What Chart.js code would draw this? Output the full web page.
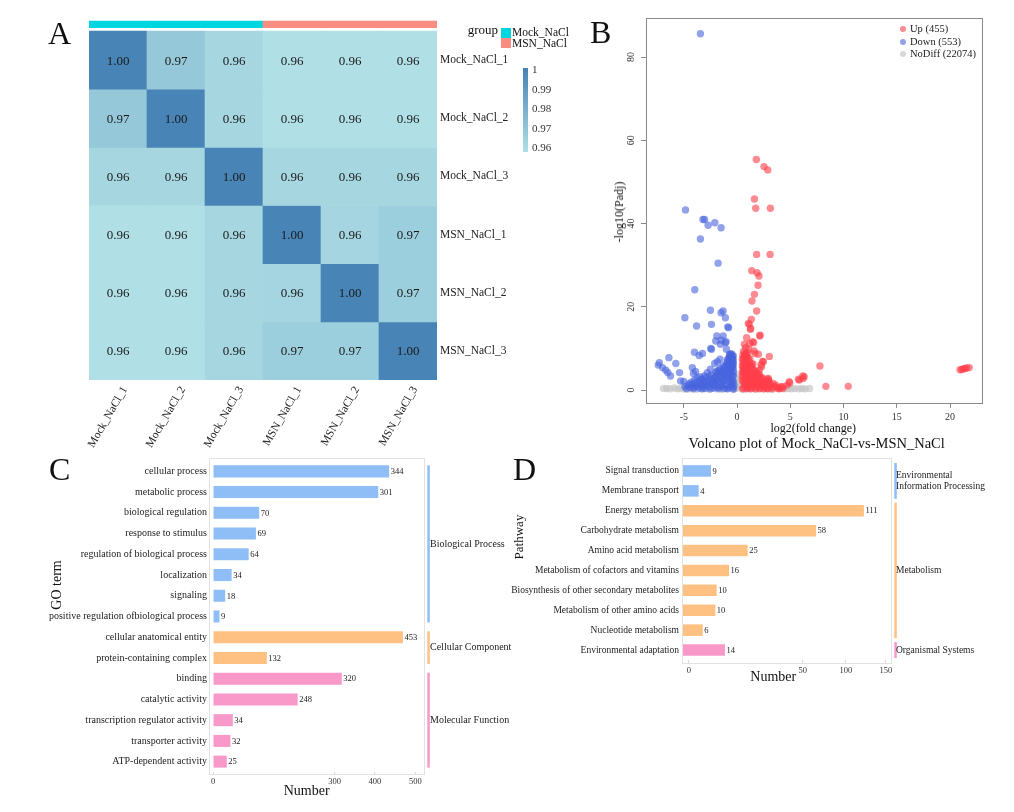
<!DOCTYPE html>
<html><head><meta charset="utf-8">
<script src="https://cdn.jsdelivr.net/npm/chart.js@4.4.1/dist/chart.umd.min.js"></script>
<style>
html,body{margin:0;padding:0;background:#fff;}
body{width:1014px;height:812px;position:relative;overflow:hidden;font-family:"Liberation Serif","Times New Roman",serif;color:#111;}
canvas{position:absolute;}
.t{position:absolute;white-space:nowrap;line-height:1;}
</style></head><body>
<canvas id="cA" width="600" height="450" style="left:0px;top:0px"></canvas>
<canvas id="cB" width="434" height="450" style="left:580px;top:0px"></canvas>
<canvas id="cC" width="480" height="350" style="left:40px;top:450px"></canvas>
<canvas id="cD" width="514" height="250" style="left:500px;top:450px"></canvas>
<script>
// ---------------- DATA ----------------
// Panel A: sample correlation heatmap
const sampleNames = ['Mock_NaCl_1','Mock_NaCl_2','Mock_NaCl_3','MSN_NaCl_1','MSN_NaCl_2','MSN_NaCl_3'];
const sampleGroup = ['Mock_NaCl','Mock_NaCl','Mock_NaCl','MSN_NaCl','MSN_NaCl','MSN_NaCl'];
const groupNames = ['Mock_NaCl','MSN_NaCl'];
const heatMatrix = [
  [1.000, 0.969, 0.962, 0.958, 0.958, 0.958],
  [0.969, 1.000, 0.962, 0.958, 0.958, 0.958],
  [0.962, 0.962, 1.000, 0.962, 0.962, 0.962],
  [0.958, 0.958, 0.962, 1.000, 0.963, 0.966],
  [0.958, 0.958, 0.962, 0.963, 1.000, 0.966],
  [0.958, 0.958, 0.962, 0.966, 0.966, 1.000]
];
const colorbarTicks = [1, 0.99, 0.98, 0.97, 0.96];
const colorbarTickText = ['1','0.99','0.98','0.97','0.96'];

// Panel B: volcano plot points [log2FC, -log10(padj)]
const upPoints = [
 [1.81,55.4],[2.53,53.7],[2.88,52.9],[1.63,45.9],[1.75,43.7],[3.13,43.7],[1.84,32.6],[3.1,32.6],
 [1.38,28.7],[1.88,28.2],[2.06,27.4],[1.97,25.2],[1.63,23.0],[1.4,21.4],[1.84,19.0],[1.34,17.0],
 [1.16,15.8],[1.25,14.6],[2.13,13.0],[0.9,12.6],[0.69,11.0],[1.56,11.4],[1.2,11.2],[1.6,9.4],
 [2.0,8.6],[3.03,8.1],[2.4,6.9],[2.25,6.1],[1.38,6.2],[7.78,5.8],[6.3,3.2],[6.2,2.8],[5.85,2.4],
 [8.34,0.9],[10.44,0.9],[4.94,1.7],[4.7,1.2],[4.3,0.8],[4.0,0.5],[2.97,2.4],
 [20.94,4.9],[21.1,4.95],[21.25,5.1],[21.4,5.2],[21.56,5.3],[21.8,5.4],
 [1.06,16.0],[1.28,14.8],[2.16,13.2],[1.47,11.6],[1.69,8.8],[2.47,6.8],[2.3,5.6],[2.1,4.8],
 [2.94,2.8],[3.4,1.6],[4.9,2.0],[5.76,2.6],[6.17,3.4],
 [0.6,0.6],[0.8,1.2],[1.0,0.5],[1.2,1.0],[1.4,0.6],[1.6,1.3],[1.8,0.7],[2.0,1.1],[2.2,0.5],
 [2.4,1.2],[2.6,0.8],[2.8,0.4],[3.0,1.0],[3.2,0.6],[3.5,0.9],[3.8,0.5],[4.1,0.8],[4.3,0.4],
 [0.6,1.9],[0.9,2.3],[1.2,1.8],[1.5,2.2],[1.8,1.9],[2.1,2.4],[2.4,1.8],[2.7,2.2],[3.0,1.9],
 [0.6,3.0],[0.9,3.6],[1.2,2.9],[1.5,3.4],[1.8,3.0],[2.1,3.7],[2.4,2.9],[0.7,3.9],
 [0.6,4.5],[0.9,5.0],[1.2,4.3],[1.5,4.9],[1.8,4.4],[0.7,5.4],
 [0.6,6.0],[0.9,6.6],[1.2,5.8],[1.5,6.3],[0.7,7.0],
 [0.6,7.6],[0.9,8.1],[1.2,7.4],[0.7,8.7],[1.0,9.0],[0.8,10.2],[1.1,9.8],
 [0.5,0.3],[0.7,1.5],[0.9,0.3],[1.1,1.6],[1.3,0.3],[1.5,1.5],[1.7,0.3],[1.9,1.5],[2.1,0.3],
 [2.3,1.6],[2.5,0.3],[2.7,1.5],[2.9,0.3],[3.1,1.4],[3.35,0.3],[3.65,1.2],[3.95,0.3],
 [0.5,2.4],[0.75,2.0],[1.05,2.6],[1.35,1.9],[1.65,2.7],[1.95,2.1],[2.25,2.6],[2.55,2.0],[2.85,2.6],
 [0.5,3.4],[0.8,3.0],[1.05,3.5],[1.35,3.0],[1.65,3.8],[1.95,3.4],[2.25,3.0],
 [0.5,4.2],[0.8,4.4],[1.05,4.8],[1.35,4.2],[1.65,4.7],[1.95,4.0],[0.55,5.1],
 [0.5,5.8],[0.8,5.6],[1.05,6.2],[1.35,5.7],[0.55,6.6],[0.85,7.2],[1.1,6.9],
 [0.5,7.4],[0.75,8.2],[1.05,7.8],[0.55,8.4],[0.85,8.8],[0.6,9.3]
];
const downPoints = [
 [-3.44,85.6],[-4.84,43.3],[-3.2,41.0],[-3.05,41.0],[-2.72,39.6],[-2.09,40.2],[-1.5,39.0],[-3.44,36.3],
 [-1.78,30.5],[-3.97,24.1],[-2.5,19.2],[-1.31,19.0],[-1.5,18.6],[-1.1,17.4],[-4.9,17.4],[-2.4,15.8],
 [-3.8,15.4],[-0.8,15.0],[-1.9,13.0],[-1.3,13.0],[-2.0,11.8],[-1.1,11.4],[-1.56,11.0],[-1.0,9.8],
 [-2.4,9.8],[-4.0,9.1],[-3.25,8.8],[-3.56,8.3],[-0.7,8.6],[-6.4,7.8],[-7.3,6.6],[-7.4,6.0],
 [-5.75,6.4],[-7.0,5.4],[-6.7,4.8],[-6.5,4.2],[-6.25,3.4],[-5.4,4.2],[-4.2,5.4],[-3.9,4.5],
 [-5.3,2.2],[-5.0,2.1],[-2.1,6.4],[-2.5,5.0],[-2.8,4.2],[-3.06,3.4],[-3.3,2.6],[-3.75,3.0],
 [-1.6,7.4],[-1.85,6.8],[-2.47,10.0],[-1.47,12.0],[-1.03,11.6],[-0.87,15.2],[-4.1,4.0],[-3.5,3.2],
 [-4.9,0.8],[-4.6,1.1],[-4.4,0.6],[-4.2,1.3],[-4.0,0.7],[-3.8,1.0],[-3.6,0.5],[-3.4,1.2],[-3.2,0.8],
 [-3.0,0.4],[-2.8,1.1],[-2.6,0.7],[-2.4,1.4],[-2.2,0.5],[-2.0,1.0],[-1.8,0.6],[-1.6,1.3],[-1.4,0.8],
 [-1.2,0.4],[-1.0,1.1],[-0.8,0.6],[-0.6,1.2],[-0.4,0.5],[-0.3,1.0],
 [-4.3,1.9],[-3.9,1.7],[-3.5,2.0],[-3.1,1.8],[-2.7,2.2],[-2.3,1.9],[-1.9,2.3],[-1.5,2.0],[-1.1,2.4],
 [-0.7,2.1],[-0.4,2.3],
 [-3.0,2.9],[-2.6,3.3],[-2.2,2.8],[-1.9,3.6],[-1.6,3.1],[-1.3,3.7],[-1.0,3.2],[-0.7,3.8],[-0.4,3.3],
 [-2.0,4.3],[-1.7,4.8],[-1.4,4.4],[-1.1,5.0],[-0.8,4.6],[-0.5,5.2],[-0.35,4.4],
 [-1.3,5.8],[-1.0,6.3],[-0.8,5.9],[-0.6,6.6],[-0.4,6.0],[-0.35,7.0],
 [-0.9,7.3],[-0.7,7.8],[-0.5,8.2],[-0.4,7.5],[-0.6,8.6],
 [-4.75,0.4],[-4.5,1.5],[-4.1,0.3],[-3.7,1.5],[-3.3,0.3],[-2.9,1.5],[-2.5,0.3],[-2.1,1.6],[-1.7,0.3],
 [-1.3,1.5],[-0.9,0.3],[-0.5,1.6],[-0.35,0.2],
 [-4.0,2.4],[-3.3,2.5],[-2.9,2.0],[-2.5,2.6],[-2.1,2.1],[-1.7,2.7],[-1.3,2.2],[-0.9,2.8],[-0.55,2.6],[-0.35,1.8],
 [-2.4,3.6],[-2.0,3.2],[-1.75,4.0],[-1.45,3.4],[-1.15,4.1],[-0.85,3.5],[-0.55,4.0],[-0.35,3.6],
 [-1.85,4.6],[-1.55,5.2],[-1.25,4.7],[-0.95,5.4],[-0.65,4.9],[-0.45,5.6],[-0.35,5.2],
 [-1.15,5.6],[-0.9,6.8],[-0.7,6.2],[-0.5,6.8],[-0.35,6.3],[-0.45,6.9],
 [-0.8,7.6],[-0.6,7.2],[-0.45,8.0],[-0.35,8.2],[-0.5,8.7],[-0.7,8.3]
];
const nodiffPoints = [
 [-6.9,0.4],[-6.6,0.4],[-6.3,0.3],[-5.9,0.5],[-5.6,0.3],[-5.3,0.4],[-5.0,0.3],[-4.7,0.2],[-4.3,0.3],
 [-3.8,0.2],[-3.2,0.3],[-2.6,0.2],[-2.0,0.3],[-1.4,0.2],[-0.9,0.3],[-0.2,0.4],[-0.1,1.5],[0.0,0.5],
 [0.1,2.5],[0.2,1.2],[-0.15,3.0],[0.15,3.8],[0.0,2.0],[0.6,0.2],[1.2,0.3],[1.8,0.2],[2.5,0.3],
 [3.2,0.2],[3.9,0.3],[4.5,0.3],[4.8,0.4],[5.1,0.3],[5.4,0.4],[5.8,0.3],[6.1,0.4],[6.4,0.3],[6.8,0.4]
];
const volcanoLegend = ['Up (455)','Down (553)','NoDiff (22074)'];
const volcanoXTicks = [-5, 0, 5, 10, 15, 20];
const volcanoYTicks = [0, 20, 40, 60, 80];

// Panel C: GO terms (bar lengths read on the drawn axis, printed counts)
const goTerms = ['cellular process','metabolic process','biological regulation','response to stimulus',
 'regulation of biological process','localization','signaling','positive regulation ofbiological process',
 'cellular anatomical entity','protein-containing complex','binding','catalytic activity',
 'transcription regulator activity','transporter activity','ATP-dependent activity'];
const goBarLength = [435, 408, 114, 106, 88, 46, 30, 16, 469, 133, 318, 209, 49, 43, 34];
const goCounts = [344, 301, 70, 69, 64, 34, 18, 9, 453, 132, 320, 248, 34, 32, 25];
const goCategory = [0,0,0,0,0,0,0,0,1,1,2,2,2,2,2];
const goGroupNames = ['Biological Process','Cellular Component','Molecular Function'];
const goTicks = [0, 300, 400, 500];

// Panel D: KEGG pathways
const pathways = ['Signal transduction','Membrane transport','Energy metabolism','Carbohydrate metabolism',
 'Amino acid metabolism','Metabolism of cofactors and vitamins','Biosynthesis of other secondary metabolites',
 'Metabolism of other amino acids','Nucleotide metabolism','Environmental adaptation'];
const pathwayBarLength = [20.7, 11.6, 133.7, 98.3, 47.8, 34.0, 24.9, 23.9, 14.6, 31.0];
const pathwayCounts = [9, 4, 111, 58, 25, 16, 10, 10, 6, 14];
const pathwayCategory = [0,0,1,1,1,1,1,1,1,2];
const pathwayGroupNames = ['Environmental\nInformation Processing','Metabolism','Organismal Systems'];
const pathwayTickAt = [4.4, 88.4, 120.4, 150];
const pathwayTickText = ['0','50','100','150'];

// ---------------- STYLE ----------------
const F = '"Liberation Serif", "Times New Roman", serif';
Chart.defaults.font.family = F;
Chart.defaults.color = '#222';
const catColors = ['#8fbef7', '#ffc182', '#f899c9'];
const groupColors = {'Mock_NaCl':'#00d6df', 'MSN_NaCl':'#fa8d82'};
const heatLight = [176,224,230], heatDark = [70,130,180];
const heatMin = 0.958, heatMax = 1.001;
function heatColor(v){
  let t = (v-heatMin)/(heatMax-heatMin); t = Math.max(0, Math.min(1, t));
  const c = heatLight.map((l,i)=>Math.round(l+(heatDark[i]-l)*t));
  return 'rgb('+c.join(',')+')';
}
const base = {responsive:false, animation:false, devicePixelRatio:1,
  plugins:{legend:{display:false}, tooltip:{enabled:false}}};

function T(txt, x, y, size, align, extra){
  const d = document.createElement('div'); d.className='t'; d.textContent = txt;
  d.style.fontSize = size+'px'; d.style.left = x+'px'; d.style.top = (y-0.8375*size)+'px';
  if (align==='c') d.style.transform='translateX(-50%)';
  if (align==='r') d.style.transform='translateX(-100%)';
  if (extra) Object.assign(d.style, extra);
  document.body.appendChild(d); return d;
}
function R(txt, cx, cy, size){
  const d = document.createElement('div'); d.className='t'; d.textContent = txt;
  d.style.fontSize = size+'px'; d.style.left = cx+'px'; d.style.top = cy+'px';
  d.style.transform = 'translate(-50%,-50%) rotate(-90deg)';
  document.body.appendChild(d); return d;
}
function box(x,y,w,h,bg,extra){
  const d = document.createElement('div'); d.style.position='absolute';
  d.style.left=x+'px'; d.style.top=y+'px'; d.style.width=w+'px'; d.style.height=h+'px'; d.style.background=bg;
  if (extra) Object.assign(d.style, extra);
  document.body.appendChild(d); return d;
}

// ---------------- PANEL A ----------------
const GROUP_BAR = [-0.172, -0.06];
const dsA = heatMatrix.map((row, r) => ({
  data: row.map(() => [r, r+1]),
  backgroundColor: row.map(heatColor),
  borderWidth: 0, barPercentage: 1, categoryPercentage: 1, grouped: false
}));
dsA.push({
  data: sampleGroup.map(() => GROUP_BAR),
  backgroundColor: sampleGroup.map(g => groupColors[g]),
  borderWidth: 0, barPercentage: 1, categoryPercentage: 1, grouped: false
});
const heatText = {
  id:'heatText',
  afterDatasetsDraw(chart){
    const ctx = chart.ctx; ctx.save();
    ctx.font = '13px '+F; ctx.fillStyle = '#1a1a1a'; ctx.textAlign='center'; ctx.textBaseline='middle';
    heatMatrix.forEach((row, r) => {
      const meta = chart.getDatasetMeta(r);
      row.forEach((v, c) => {
        const el = meta.data[c];
        ctx.fillText(v.toFixed(2), el.x, (el.y+el.base)/2 + 1);
      });
    });
    ctx.restore();
  }
};
new Chart(document.getElementById('cA'), {
  type:'bar',
  data:{labels: sampleNames, datasets: dsA},
  options:{...base,
    layout:{padding:{left:89, top:20, right:0, bottom:0}},
    scales:{
      x:{type:'category', grid:{display:false, drawTicks:false}, border:{display:false},
         ticks:{minRotation:60, maxRotation:60, autoSkip:false, font:{size:11.5}, color:'#222', padding:4, labelOffset:7},
         afterFit:s=>{s.height=70;}},
      y:{type:'linear', position:'right', reverse:true, min:-0.19, max:6,
         grid:{display:false, drawTicks:false}, border:{display:false},
         afterBuildTicks:s=>{s.ticks = sampleNames.map((_,i)=>({value:i+0.5}));},
         ticks:{callback:(v,i)=>sampleNames[i], font:{size:11.5}, color:'#222', padding:3},
         afterFit:s=>{s.width=163;}}
    }
  },
  plugins:[heatText]
});
T('A', 48, 44, 32, 'l');
T('group', 498, 33.5, 13, 'r');
groupNames.forEach((g,i)=>{
  box(501, 28+i*10, 10, 10, groupColors[g]);
  T(g, 512, 36.5+i*11, 11.5, 'l');
});
const cbTop = 68, cbBottom = 152;
box(523, cbTop, 4.5, cbBottom-cbTop, 'linear-gradient(to bottom, rgb(70,130,180), rgb(176,224,230))');
colorbarTicks.forEach((v,i)=>{
  const y = cbTop + (heatMax - v)/(heatMax-heatMin)*(cbBottom-cbTop);
  T(colorbarTickText[i], 532, y+3.6, 11, 'l', {color:'#333'});
});

// ---------------- PANEL B ----------------
const boxPlugin = (color, dt, db) => ({
  id:'boxPlugin',
  beforeDatasetsDraw(chart){
    const a = chart.chartArea, ctx = chart.ctx; ctx.save();
    ctx.strokeStyle = color; ctx.lineWidth = 1;
    ctx.strokeRect(Math.round(a.left)+0.5, Math.round(a.top - dt)+0.5, Math.round(a.right-a.left), Math.round(a.bottom-a.top+dt+db));
    ctx.restore();
  }
});
const volcanoYLabels = {
  id:'vyl',
  afterDraw(chart){
    const ys = chart.scales.y, ctx = chart.ctx, x = chart.chartArea.left - 14.3;
    ctx.save(); ctx.font = '10px '+F; ctx.fillStyle = '#333'; ctx.textAlign='center'; ctx.textBaseline='middle';
    volcanoYTicks.forEach(v=>{
      const y = ys.getPixelForValue(v);
      ctx.save(); ctx.translate(x, y); ctx.rotate(-Math.PI/2); ctx.fillText(String(v), 0, 0); ctx.restore();
    });
    ctx.restore();
  }
};
const upColor = 'rgba(255,62,74,0.6)', downColor = 'rgba(72,100,222,0.6)', ndColor = 'rgba(195,195,195,0.65)';
const toXY = arr => arr.map(p => ({x:p[0], y:p[1]}));
new Chart(document.getElementById('cB'), {
  type:'scatter',
  data:{datasets:[
    {label:volcanoLegend[0], data:toXY(upPoints), backgroundColor:upColor, pointRadius:3.7, borderWidth:0},
    {label:volcanoLegend[1], data:toXY(downPoints), backgroundColor:downColor, pointRadius:3.7, borderWidth:0},
    {label:volcanoLegend[2], data:toXY(nodiffPoints), backgroundColor:ndColor, pointRadius:3.7, borderWidth:0}
  ]},
  options:{...base,
    layout:{padding:{left:0, top:18, right:32, bottom:0}},
    scales:{
      x:{type:'linear', min:-8.55, max:23,
         afterBuildTicks:s=>{s.ticks = volcanoXTicks.map(v=>({value:v}));},
         grid:{drawOnChartArea:false, drawTicks:true, tickLength:5, color:'#8a8a8a'}, border:{display:false},
         ticks:{font:{size:10}, color:'#333', padding:3, maxRotation:0},
         afterFit:s=>{s.height=47;}},
      y:{type:'linear', min:-3.1, max:89.4,
         afterBuildTicks:s=>{s.ticks = volcanoYTicks.map(v=>({value:v}));},
         grid:{drawOnChartArea:false, drawTicks:true, tickLength:5, color:'#8a8a8a'}, border:{display:false},
         ticks:{display:false},
         afterFit:s=>{s.width=66;}}
    }
  },
  plugins:[boxPlugin('#8a8a8a',0,0), volcanoYLabels]
});
T('B', 590, 43, 32, 'l');
[upColor, downColor, ndColor].forEach((c,i)=>{
  box(900.3, 26.3+i*12.5, 6, 6, c, {borderRadius:'50%'});
  T(volcanoLegend[i], 910, 33+i*12.5, 10.5, 'l', {color:'#222'});
});
R('-log10(Padj)', 619.3, 211.7, 12);
T('log2(fold change)', 813.3, 432, 12, 'c');
T('Volcano plot of Mock_NaCl-vs-MSN_NaCl', 816.7, 447.7, 14.5, 'c');

// ---------------- PANEL C / D helpers ----------------
function sidePlugin(counts, categories, groupNames, halfSpan, lineGap, labelGap, fontSize){
  return {
    id:'side',
    afterDatasetsDraw(chart){
      const ctx = chart.ctx, a = chart.chartArea, ys = chart.scales.y;
      const meta = chart.getDatasetMeta(0);
      ctx.save();
      ctx.font = '8.5px '+F; ctx.fillStyle = '#222'; ctx.textAlign='left'; ctx.textBaseline='middle';
      meta.data.forEach((el,i)=>{ ctx.fillText(String(counts[i]), el.x+1.5, el.y+0.5); });
      groupNames.forEach((name, g)=>{
        const idx = categories.map((c,i)=>c===g?i:-1).filter(i=>i>=0);
        const y0 = ys.getPixelForValue(idx[0]) - halfSpan;
        const y1 = ys.getPixelForValue(idx[idx.length-1]) + halfSpan;
        ctx.fillStyle = catColors[g];
        ctx.fillRect(a.right + lineGap, y0, 2.5, y1-y0);
        ctx.fillStyle = '#222'; ctx.font = fontSize+'px '+F;
        const lines = name.split('\n');
        const lh = fontSize*1.1, mid = (y0+y1)/2;
        lines.forEach((ln, k)=>{
          ctx.fillText(ln, a.right + labelGap, mid + (k-(lines.length-1)/2)*lh);
        });
      });
      ctx.restore();
    }
  };
}

// ---------------- PANEL C ----------------
new Chart(document.getElementById('cC'), {
  type:'bar',
  data:{labels: goTerms, datasets:[{data: goBarLength,
    backgroundColor: goCategory.map(c=>catColors[c]), borderWidth:0, barPercentage:0.58, categoryPercentage:1}]},
  options:{...base, indexAxis:'y',
    layout:{padding:{left:0, top:11, right:96, bottom:0}},
    scales:{
      x:{type:'linear', min:-9.9, max:521,
         afterBuildTicks:s=>{s.ticks = goTicks.map(v=>({value:v}));},
         grid:{drawOnChartArea:false, drawTicks:true, tickLength:3, color:'#d8d8d8'}, border:{display:false},
         ticks:{font:{size:8.5}, color:'#333', padding:1.5, maxRotation:0, callback:v=>String(v)},
         afterFit:s=>{s.height=28;}},
      y:{grid:{display:false, drawTicks:false}, border:{display:false},
         ticks:{font:{size:10}, color:'#222', padding:2, autoSkip:false},
         afterFit:s=>{s.width=169;}}
    }
  },
  plugins:[boxPlugin('#e2e2e2',3,2), sidePlugin(goCounts, goCategory, goGroupNames, 6, 3.3, 6, 10)]
});
T('C', 49, 480, 32, 'l');
R('GO term', 56.7, 585, 14);
T('Number', 306.7, 796, 14, 'c');

// ---------------- PANEL D ----------------
new Chart(document.getElementById('cD'), {
  type:'bar',
  data:{labels: pathways, datasets:[{data: pathwayBarLength,
    backgroundColor: pathwayCategory.map(c=>catColors[c]), borderWidth:0, barPercentage:0.58, categoryPercentage:1}]},
  options:{...base, indexAxis:'y',
    layout:{padding:{left:0, top:11, right:123, bottom:0}},
    scales:{
      x:{type:'linear', min:-0.74, max:153.7,
         afterBuildTicks:s=>{s.ticks = pathwayTickAt.map(v=>({value:v}));},
         grid:{drawOnChartArea:false, drawTicks:true, tickLength:3, color:'#d8d8d8'}, border:{display:false},
         ticks:{font:{size:8.5}, color:'#333', padding:3, maxRotation:0, callback:(v,i)=>pathwayTickText[i]},
         afterFit:s=>{s.height=40;}},
      y:{grid:{display:false, drawTicks:false}, border:{display:false},
         ticks:{font:{size:9.5}, color:'#222', padding:3, autoSkip:false},
         afterFit:s=>{s.width=182;}}
    }
  },
  plugins:[boxPlugin('#e2e2e2',3,3), sidePlugin(pathwayCounts, pathwayCategory, pathwayGroupNames, 8, 3.3, 5, 9.5)]
});
T('D', 513, 480, 32, 'l');
R('Pathway', 518.3, 536.7, 13);
T('Number', 773.3, 682, 14, 'c');
</script>
</body></html>
